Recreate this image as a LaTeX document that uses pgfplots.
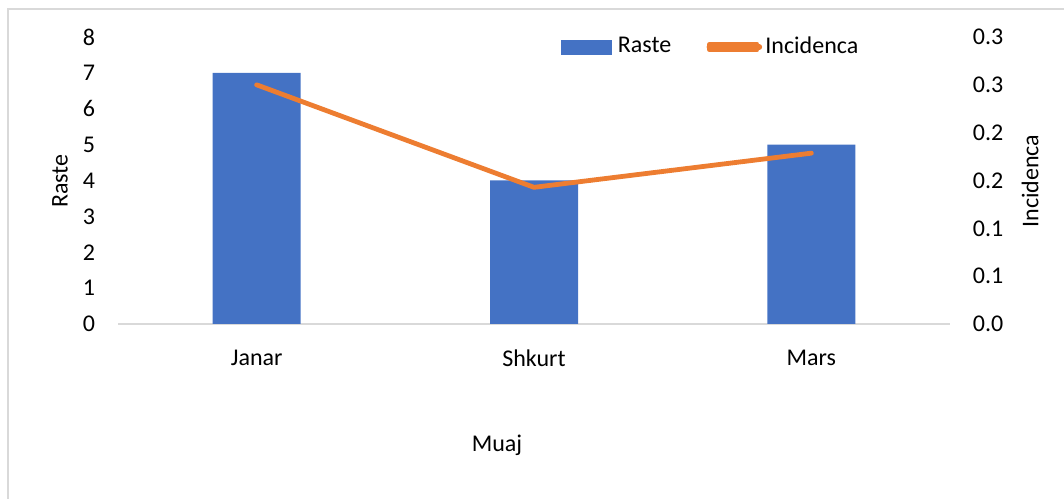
\documentclass[border=0pt]{standalone}
\usepackage{pgfplots}
\pgfplotsset{compat=1.18}
\usepackage{fontspec}
\setmainfont{Carlito}
\definecolor{xlblue}{HTML}{4472C4}
\definecolor{xlorange}{HTML}{ED7D31}
\definecolor{xlgrid}{HTML}{D9D9D9}
\newcommand{\fs}{\fontsize{18pt}{21.6pt}\selectfont}
\begin{document}
\fs
\begin{tikzpicture}
\useasboundingbox (0,0) rectangle (798pt,374.25pt);
\draw[xlgrid, line width=1.2pt] (6pt,0) -- (6pt,367.5pt) -- (798pt,367.5pt);
\begin{axis}[
  at={(88.5pt,131.25pt)}, anchor=south west,
  scale only axis, width=624pt, height=215.25pt,
  xmin=-0.5, xmax=2.5, ymin=0, ymax=8,
  xtick={0,1,2}, xticklabels={Janar,Shkurt,Mars},
  ytick={0,1,...,8},
  axis x line*=bottom, axis y line*=left,
  x axis line style={draw=xlgrid, line width=0.9pt, -},
  y axis line style={draw=none},
  major tick length=0pt,
  tick label style={font=\fs},
  /pgf/number format/assume math mode=true,
  xticklabel style={anchor=north, inner sep=0pt, yshift=-19.5pt},
  yticklabel style={anchor=east, inner sep=0pt, xshift=-17pt},
  xlabel={Muaj},
  xlabel style={at={(rel axis cs:0.5,0)}, anchor=center, xshift=-27.75pt, yshift=-90.75pt},
  label style={font=\fs},
]
\addplot[ybar, bar width=66pt, bar shift=0pt, fill=xlblue, draw=none]
  coordinates {(0,7) (1,4) (2,5)};
\end{axis}
\begin{axis}[
  at={(88.5pt,131.25pt)}, anchor=south west,
  scale only axis, width=624pt, height=215.25pt,
  xmin=-0.5, xmax=2.5, ymin=0, ymax=0.3,
  axis x line=none, axis y line*=right,
  y axis line style={draw=none},
  major tick length=0pt,
  ytick={0,0.05,0.1,0.15,0.2,0.25,0.3},
  yticklabels={0.0,0.1,0.1,0.2,0.2,0.3,0.3},
  tick label style={font=\fs},
  yticklabel style={anchor=west, inner sep=0pt, xshift=17pt},
  legend columns=2,
  legend style={at={(rel axis cs:0.527,0.965)}, anchor=west, draw=none, fill=none,
    font=\fs,
    nodes={inner sep=1.5pt},
    /tikz/every odd column/.append style={column sep=3pt},
    /tikz/every even column/.append style={column sep=25.25pt}},
]
\addlegendimage{legend image code/.code={\fill[xlblue] (0pt,-5.25pt) rectangle (38pt,5pt);}}
\addlegendentry{Raste}
\addplot[xlorange, line width=3.6pt, line cap=round, line join=round, mark=none,
  legend image code/.code={\path (2pt,-2pt) rectangle (37.75pt,2pt);
    \draw[overlay, xlorange, line width=4.2pt, line cap=round] (2pt,0) -- (39.5pt,0);}]
  coordinates {(0,0.25) (1,0.142857) (2,0.178571)};
\addlegendentry{Incidenca}
\end{axis}
\node[rotate=90, font=\fs] at (45pt,238.5pt) {Raste};
\node[rotate=90, font=\fs] at (772.5pt,238.5pt) {Incidenca};
\end{tikzpicture}
\end{document}
